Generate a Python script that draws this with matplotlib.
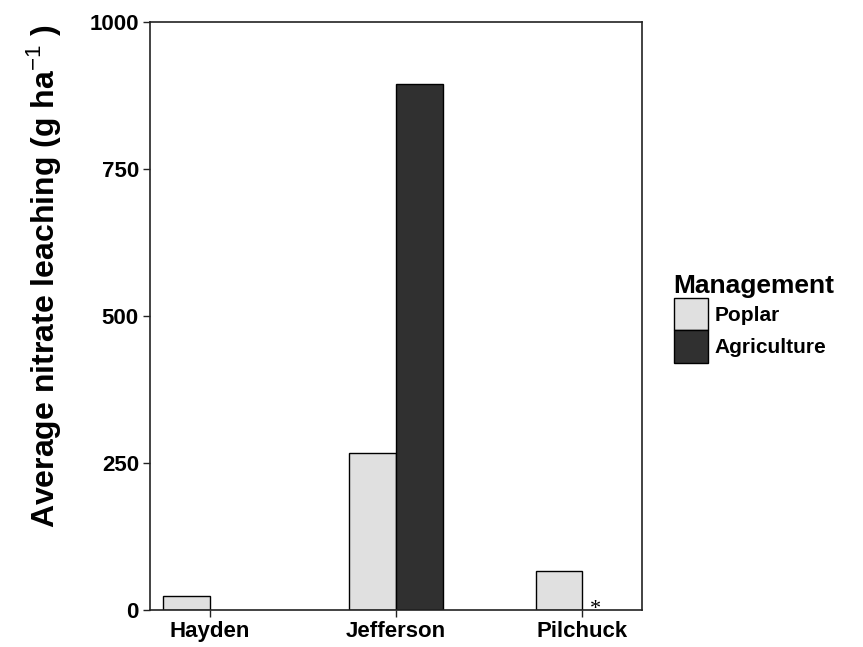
import matplotlib.pyplot as plt
import numpy as np

plt.rcParams['font.family'] = ['Liberation Sans', 'DejaVu Sans']
plt.rcParams['mathtext.fontset'] = 'custom'
plt.rcParams['mathtext.rm'] = 'Liberation Sans'
plt.rcParams['mathtext.bf'] = 'Liberation Sans:bold'

sites = ['Hayden', 'Jefferson', 'Pilchuck']
poplar = [24, 267, 67]
agriculture = [np.nan, 895, np.nan]
management = ['Poplar', 'Agriculture']
colors = ['#e0e0e0', '#303030']

W, H = 863, 647
fig = plt.figure(figsize=(W / 100, H / 100), dpi=100)
ax = fig.add_axes([150 / W, 1 - 610 / H, (642 - 150) / W, (610 - 22) / H])

x = np.arange(len(sites))
bw = 0.25
ax.bar(x - bw / 2, poplar, bw, color=colors[0], edgecolor='black', linewidth=1.0, label=management[0])
ax.bar(x + bw / 2, agriculture, bw, color=colors[1], edgecolor='black', linewidth=1.0, label=management[1])

# missing agriculture site marker
ax.text(2 + 0.07, 0, '*', family='Liberation Serif', fontsize=16, ha='center', va='center')

ax.set_xlim(-0.32, 2.32)
ax.set_ylim(0, 1000)
ax.set_xticks(x)
ax.set_xticklabels(sites)
ax.set_yticks([0, 250, 500, 750, 1000])
for lab in ax.get_xticklabels() + ax.get_yticklabels():
    lab.set_fontweight('bold')
    lab.set_fontsize(16)
ax.tick_params(direction='out', length=5, width=1.0, color='#222222', pad=3)
for s in ax.spines.values():
    s.set_linewidth(1.2)
    s.set_color('#222222')

fig.text(44 / W, 1 - 276 / H, r'Average nitrate leaching (g ha$^{-1}$ )',
         rotation=90, ha='center', va='center', fontsize=23, fontweight='bold')

leg = ax.legend(title='Management', loc='upper left', bbox_to_anchor=(659 / W, 1 - 259 / H),
                bbox_transform=fig.transFigure, frameon=False, fontsize=15,
                title_fontproperties={'weight': 'bold', 'size': 19}, alignment='left',
                handlelength=1.65, handleheight=2.05, labelspacing=0, handletextpad=0.3,
                borderpad=0.2)
for h in leg.legend_handles:
    h.set_edgecolor('black')
for t in leg.get_texts():
    t.set_fontweight('bold')

fig.savefig('out.png', dpi=100)
